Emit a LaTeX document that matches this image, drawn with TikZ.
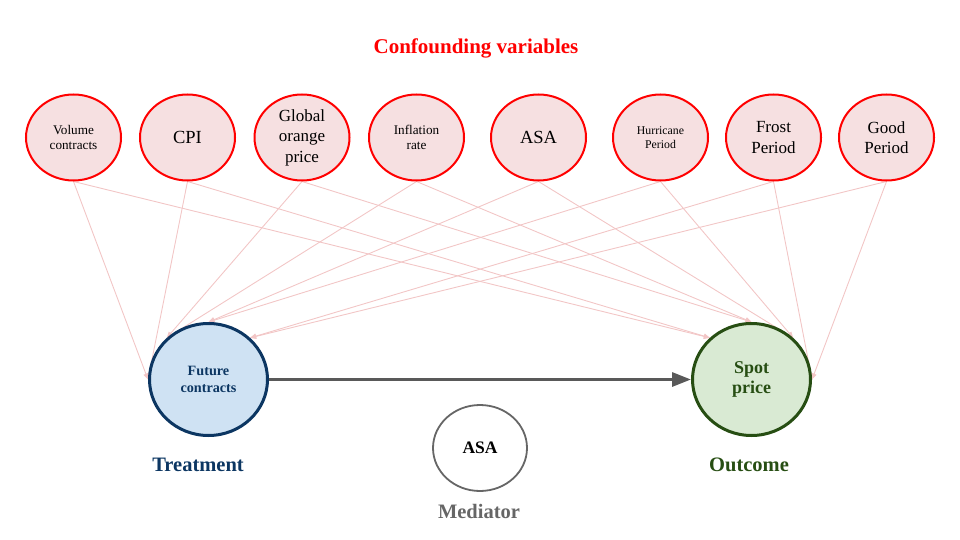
\documentclass[tikz,border=0pt]{standalone}
\usepackage{fontspec}
\setmainfont{Liberation Serif}
\usetikzlibrary{shapes.geometric,arrows.meta}
\pgfdeclarelayer{bg}
\pgfsetlayers{bg,main}
\definecolor{confred}{RGB}{255,0,0}
\definecolor{conffill}{RGB}{246,224,225}
\definecolor{linkpink}{RGB}{242,198,198}
\definecolor{treatfill}{RGB}{207,226,243}
\definecolor{treatdark}{RGB}{12,54,98}
\definecolor{outfill}{RGB}{217,234,211}
\definecolor{outdark}{RGB}{39,78,19}
\definecolor{medgray}{RGB}{102,102,102}
\definecolor{arrowgray}{RGB}{89,89,89}
\begin{document}
\begin{tikzpicture}[x=1pt,y=-1pt,
  conf/.style={ellipse, draw=confred, fill=conffill, line width=2pt,
    minimum width=95pt, minimum height=86pt, inner sep=0pt, align=center},
  bigtxt/.style={font=\fontsize{17}{20.5}\selectfont},
  cpitxt/.style={font=\fontsize{18.5}{21}\selectfont},
  smalltxt/.style={font=\fontsize{13.2}{15.5}\selectfont},
  tinytxt/.style={font=\fontsize{11.8}{14}\selectfont},
  link/.style={draw=linkpink, line width=0.9pt, -{Triangle[length=6pt,width=5pt]}},
  mainnode/.style={ellipse, line width=3pt, minimum width=118pt, minimum height=112pt,
    inner sep=0pt, align=center},
  caption/.style={font=\fontsize{20.5}{24}\selectfont\bfseries}
]
\useasboundingbox (0,0) rectangle (960,540);

\node[caption, text=confred, font=\fontsize{21}{24}\selectfont\bfseries] (title) at (476,48) {Confounding variables};

\node[conf, smalltxt] (c1) at (73.5,137.5) {Volume\\contracts};
\node[conf, cpitxt] (c2) at (187.5,137.5) {CPI};
\node[conf, bigtxt] (c3) at (302,137.5) {Global\\orange\\price};
\node[conf, smalltxt] (c4) at (416.5,137.5) {Inflation\\rate};
\node[conf, cpitxt] (c5) at (538.5,137.5) {ASA};
\node[conf, tinytxt] (c6) at (660.5,137.5) {Hurricane\\Period};
\node[conf, bigtxt] (c7) at (773.5,137.5) {Frost\\Period};
\node[conf, bigtxt] (c8) at (886.5,137.5) {Good\\Period};

\node[mainnode, draw=treatdark, fill=treatfill, text=treatdark,
  font=\fontsize{14.2}{16.5}\selectfont\bfseries] (treat) at (208.5,379.5) {Future\\contracts};
\node[mainnode, draw=outdark, fill=outfill, text=outdark,
  font=\fontsize{18}{20.5}\selectfont\bfseries] (out) at (751.5,379.5) {Spot\\price};
\node[ellipse, draw=medgray, fill=white, line width=1.8pt, minimum width=94pt,
  minimum height=86pt, inner sep=0pt, font=\fontsize{17.5}{20}\selectfont\bfseries] (med) at (480,448) {ASA};

\node[caption, text=treatdark] (treatlbl) at (198,465) {Treatment};
\node[caption, text=outdark] (outlbl) at (749,465) {Outcome};
\node[caption, text=medgray] (medlbl) at (479,511) {Mediator};

\draw[arrowgray, line width=3pt, -{Triangle[length=19pt,width=14pt]}] (treat.east) -- (out.west);

\begin{pgfonlayer}{bg}
  \draw[link] (c1.south) -- (treat.180);
  \draw[link] (c2.south) -- (treat.180);
  \draw[link] (c3.south) -- (treat.135);
  \draw[link] (c4.south) -- (treat.135);
  \draw[link] (c5.south) -- (treat.90);
  \draw[link] (c6.south) -- (treat.90);
  \draw[link] (c7.south) -- (treat.45);
  \draw[link] (c8.south) -- (treat.45);
  \draw[link] (c1.south) -- (out.135);
  \draw[link] (c2.south) -- (out.135);
  \draw[link] (c3.south) -- (out.90);
  \draw[link] (c4.south) -- (out.90);
  \draw[link] (c5.south) -- (out.45);
  \draw[link] (c6.south) -- (out.45);
  \draw[link] (c7.south) -- (out.0);
  \draw[link] (c8.south) -- (out.0);
\end{pgfonlayer}
\end{tikzpicture}
\end{document}
